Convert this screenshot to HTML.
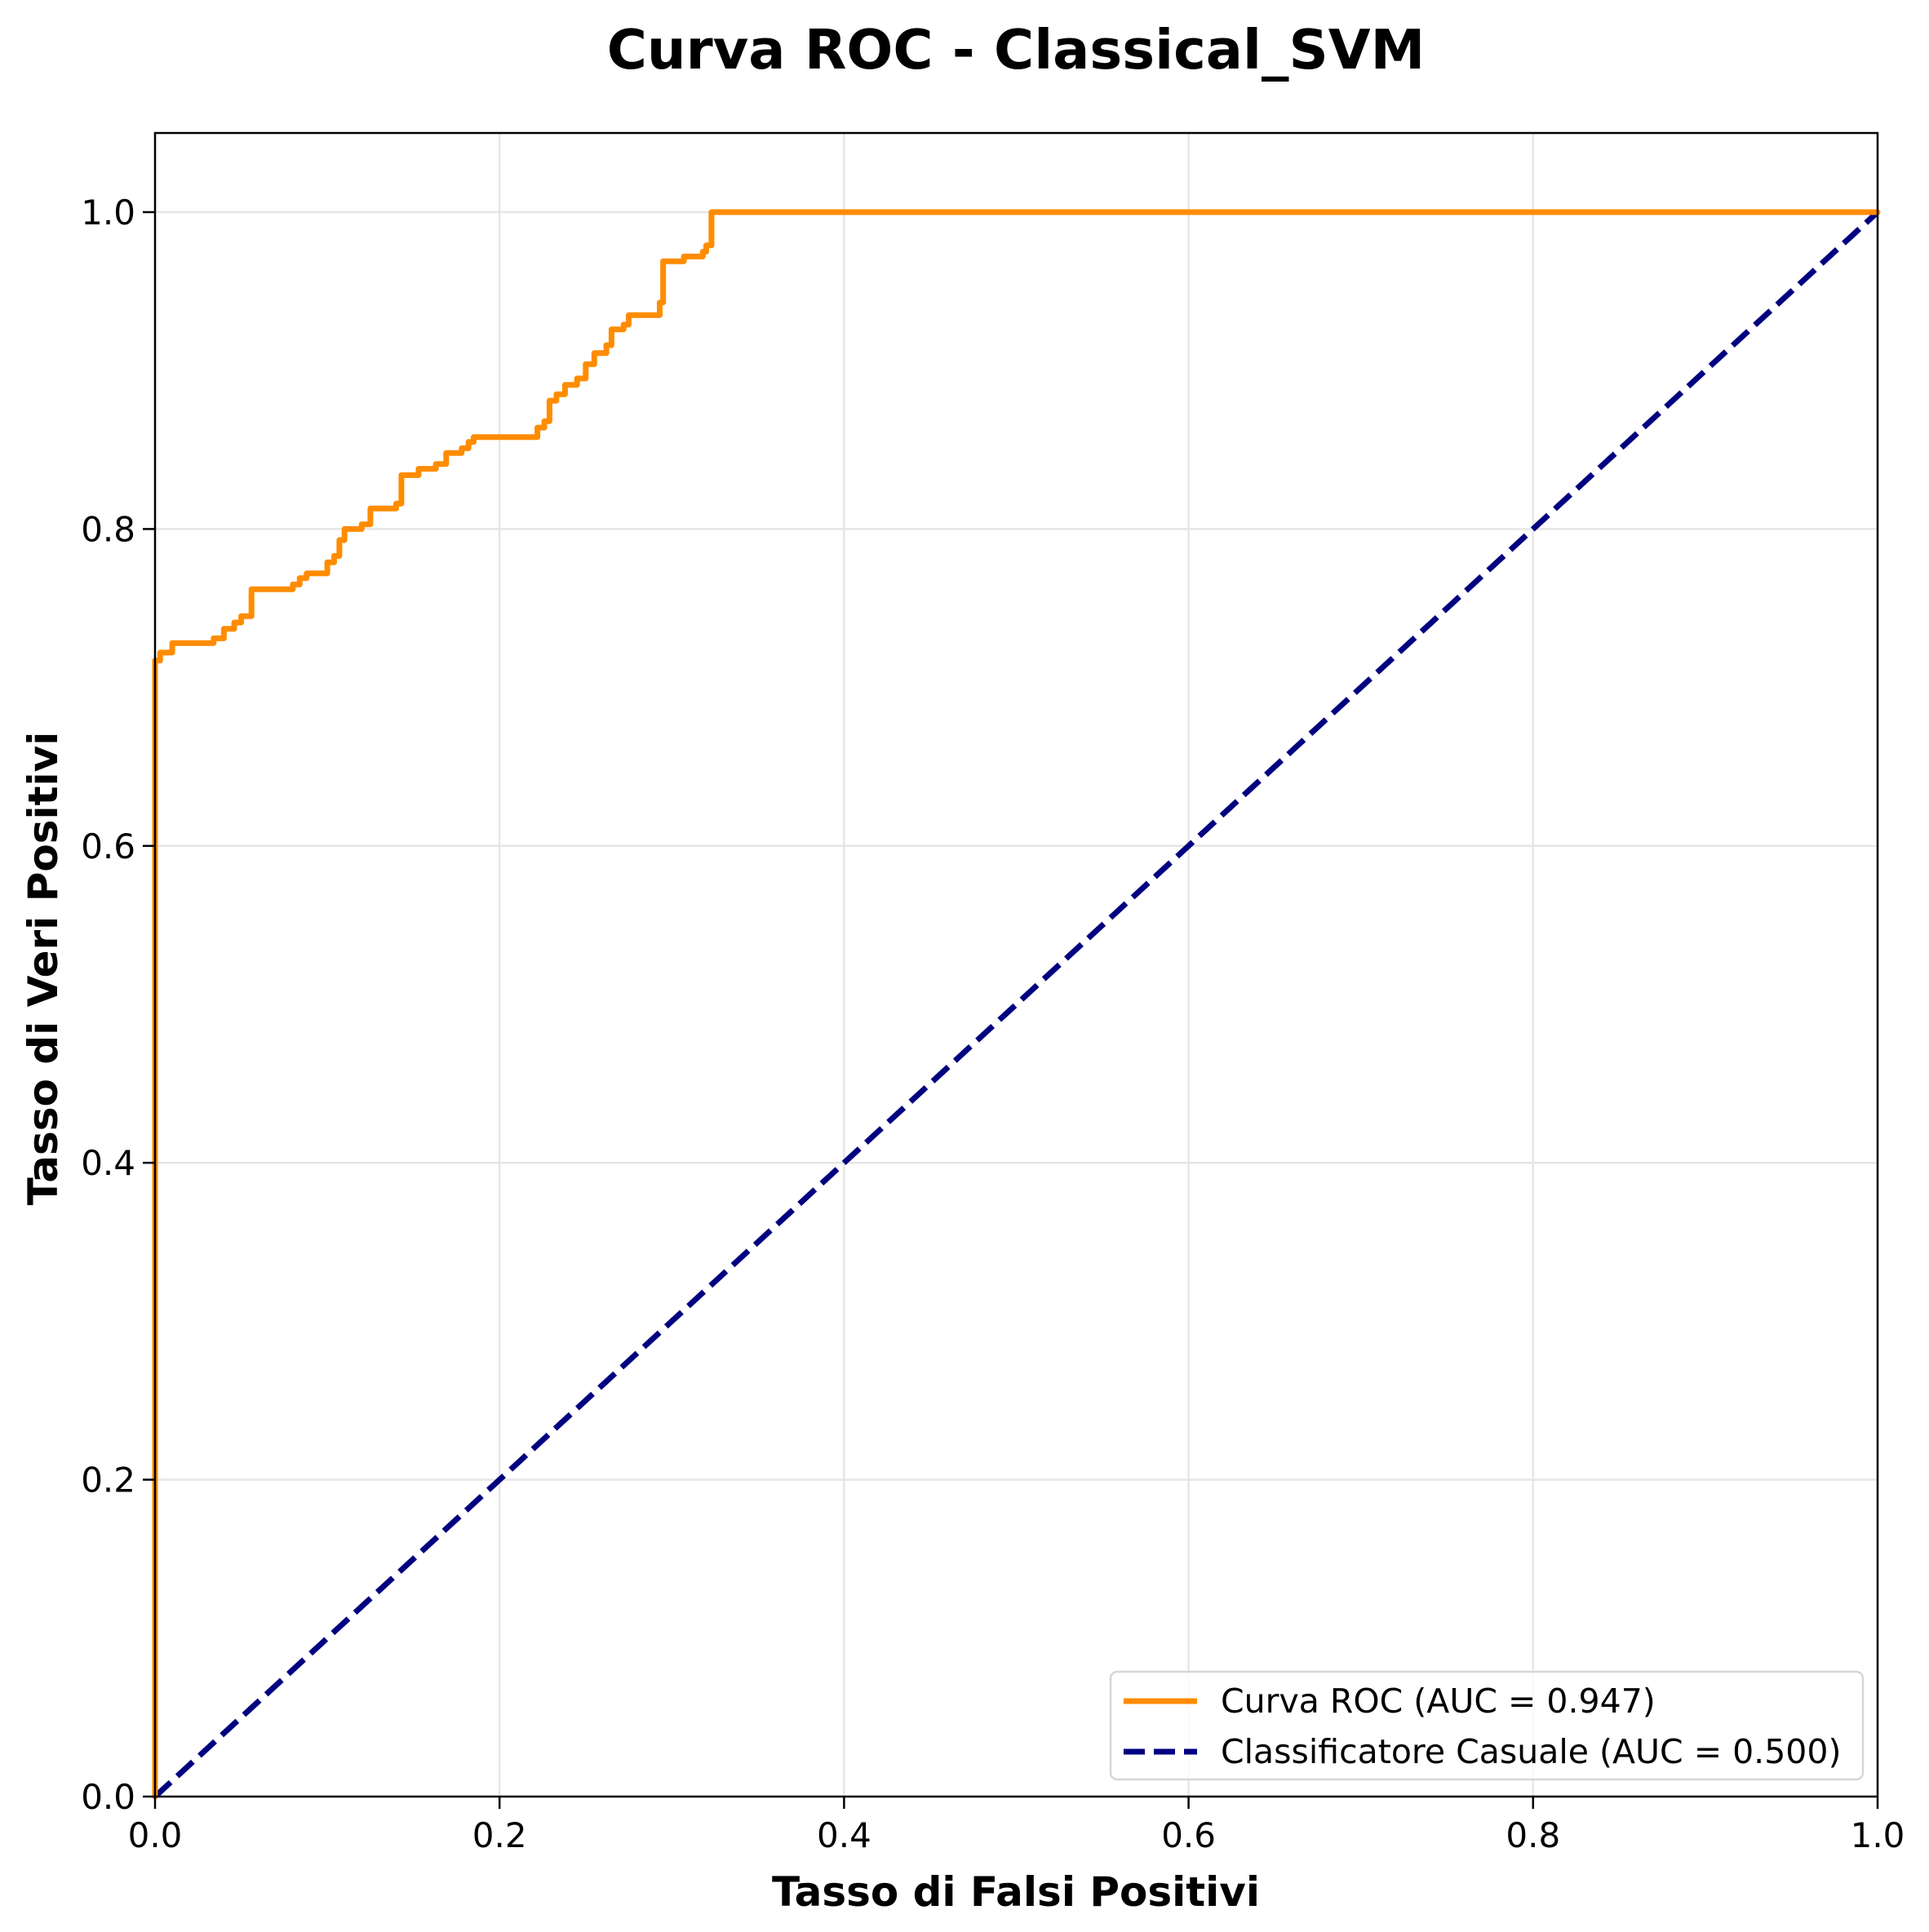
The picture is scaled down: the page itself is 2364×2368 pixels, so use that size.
<!DOCTYPE html>
<html><head><meta charset="utf-8"><style>
html,body{margin:0;padding:0;background:#fff;}
svg{display:block;font-family:"DejaVu Sans","Liberation Sans",sans-serif;}
</style></head><body>
<svg id="chart" width="2364" height="2368" viewBox="0 0 2364 2368" xmlns="http://www.w3.org/2000/svg">
<rect width="2364" height="2368" fill="#fff"/>
<text x="1245" y="84" text-anchor="middle" font-size="67" font-weight="bold">Curva ROC - Classical_SVM</text>
<g id="grid"></g>
<g id="series"></g>
<rect x="190" y="163" width="2111" height="2039" fill="none" stroke="#000" stroke-width="2.5"/>
<g id="ticks"></g>
<text x="1245" y="2336" text-anchor="middle" font-size="50" font-weight="bold">Tasso di Falsi Positivi</text>
<text transform="translate(70,1187) rotate(-90)" text-anchor="middle" font-size="50" font-weight="bold">Tasso di Veri Positivi</text>
<g>
<rect x="1361" y="2049" width="922" height="132" rx="8" fill="#fff" fill-opacity="0.8" stroke="#d6d6d6" stroke-width="2.5"/>
<line x1="1377" y1="2085" x2="1467" y2="2085" stroke="#ff8c00" stroke-width="7"/>
<text x="1496" y="2099" font-size="41">Curva ROC (AUC = 0.947)</text>
<line x1="1377" y1="2147" x2="1467" y2="2147" stroke="#000080" stroke-width="7" stroke-dasharray="26,11"/>
<text x="1496" y="2161" font-size="41">Classificatore Casuale (AUC = 0.500)</text>
</g>
</svg>
<script>
const fpr = [0,0,0.003,0.003,0.01,0.034,0.034,0.04,0.046,0.05,0.056,0.08,0.084,0.088,0.1,0.104,0.107,0.11,0.12,0.125,0.14,0.143,0.153,0.163,0.169,0.178,0.182,0.185,0.222,0.226,0.229,0.233,0.238,0.245,0.25,0.255,0.262,0.265,0.272,0.275,0.293,0.295,0.307,0.318,0.32,0.323,1.0];
const tpr = [0,0.717,0.717,0.722,0.728,0.728,0.731,0.737,0.741,0.745,0.762,0.765,0.769,0.772,0.779,0.783,0.793,0.8,0.803,0.813,0.816,0.834,0.838,0.841,0.848,0.851,0.855,0.858,0.864,0.868,0.881,0.885,0.891,0.895,0.904,0.911,0.916,0.926,0.929,0.935,0.943,0.969,0.972,0.975,0.979,1.0,1.0];
const diagX = [0,1];
const diagY = [0,1];
const tickVals = [0,0.2,0.4,0.6,0.8,1.0];
const tickLabels = ["0.0","0.2","0.4","0.6","0.8","1.0"];
const X0=190,X1=2301,Y0=2202,Y1=260;
const sx=v=>X0+v*(X1-X0);
const sy=v=>Y0-v*(Y0-Y1);
const NS="http://www.w3.org/2000/svg";
function mk(tag,attrs,parent){const e=document.createElementNS(NS,tag);for(const k in attrs)e.setAttribute(k,attrs[k]);parent.appendChild(e);return e;}
const grid=document.getElementById('grid'),ticks=document.getElementById('ticks'),series=document.getElementById('series');
tickVals.forEach((v,i)=>{
  let g=mk('line',{x1:sx(v),x2:sx(v),y1:163,y2:Y0,stroke:'#e6e6e6','stroke-width':2.5},grid);
  
  
  g=mk('line',{x1:X0,x2:X1,y1:sy(v),y2:sy(v),stroke:'#e6e6e6','stroke-width':2.5},grid);
  
  
  let t=mk('line',{x1:sx(v),x2:sx(v),y1:Y0,y2:Y0+15,stroke:'#000','stroke-width':2.5},ticks);
  
  
  t=mk('line',{x1:X0-15,x2:X0,y1:sy(v),y2:sy(v),stroke:'#000','stroke-width':2.5},ticks);
  
  
  let l=mk('text',{x:sx(v),y:Y0+62,'text-anchor':'middle','font-size':42},ticks);
  l.textContent=tickLabels[i];
  
  
  l=mk('text',{x:X0-24,y:sy(v)+15,'text-anchor':'end','font-size':42},ticks);
  l.textContent=tickLabels[i];
  
  
});
let d=mk('line',{x1:sx(diagX[0]),y1:sy(diagY[0]),x2:sx(diagX[1]),y2:sy(diagY[1]),stroke:'#000080','stroke-width':7,'stroke-dasharray':'26,11'},series);


let p='M'+sx(fpr[0]).toFixed(1)+','+sy(tpr[0]).toFixed(1);
for(let i=1;i<fpr.length;i++){p+=' H'+sx(fpr[i]).toFixed(1)+' V'+sy(tpr[i]).toFixed(1);}
let r=mk('path',{d:p,fill:'none',stroke:'#ff8c00','stroke-width':7,'stroke-linejoin':'round','stroke-linecap':'round'},series);


</script>
</body></html>
